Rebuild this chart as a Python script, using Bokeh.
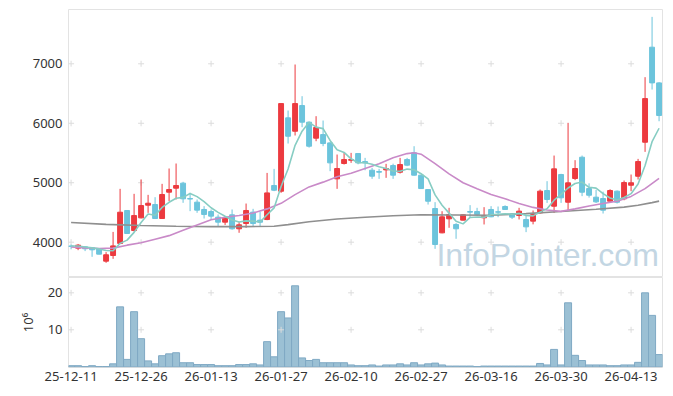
from bokeh.plotting import figure
from bokeh.layouts import column
from bokeh.models import ColumnDataSource, Range1d, FixedTicker, Label
from bokeh.embed import file_html
from bokeh.resources import INLINE

dates = ["25-12-11", "25-12-12", "25-12-15", "25-12-16", "25-12-17", "25-12-18", "25-12-19",
         "25-12-22", "25-12-23", "25-12-24", "25-12-26", "25-12-29", "25-12-30", "26-01-02",
         "26-01-05", "26-01-06", "26-01-07", "26-01-08", "26-01-09", "26-01-12", "26-01-13",
         "26-01-14", "26-01-15", "26-01-16", "26-01-19", "26-01-20", "26-01-21", "26-01-22",
         "26-01-23", "26-01-26", "26-01-27", "26-01-28", "26-01-29", "26-01-30", "26-02-02",
         "26-02-03", "26-02-04", "26-02-05", "26-02-06", "26-02-09", "26-02-10", "26-02-11",
         "26-02-12", "26-02-13", "26-02-19", "26-02-20", "26-02-23", "26-02-24", "26-02-25",
         "26-02-26", "26-02-27", "26-03-03", "26-03-04", "26-03-05", "26-03-06", "26-03-09",
         "26-03-10", "26-03-11", "26-03-12", "26-03-13", "26-03-16", "26-03-17", "26-03-18",
         "26-03-19", "26-03-20", "26-03-23", "26-03-24", "26-03-25", "26-03-26", "26-03-27",
         "26-03-30", "26-03-31", "26-04-01", "26-04-02", "26-04-03", "26-04-06", "26-04-07",
         "26-04-08", "26-04-09", "26-04-10", "26-04-13", "26-04-14", "26-04-15", "26-04-16",
         "26-04-17"]

opens = [3935, 3900, 3922, 3906, 3888, 3681, 3776, 3979, 4533, 4196,
         4409, 4622, 4633, 4398, 4841, 4908, 4993, 4735, 4673, 4550,
         4516, 4421, 4337, 4460, 4225, 4314, 4505, 4370, 4381, 4953,
         4857, 6091, 5866, 6298, 6018, 5749, 5810, 5670, 5065, 5323,
         5378, 5491, 5356, 5211, 5188, 5216, 5289, 5177, 5390, 5502,
         5127, 4885, 4566, 4157, 4393, 4298, 4371, 4516, 4516, 4410,
         4550, 4511, 4600, 4477, 4449, 4382, 4354, 4493, 4869, 4605,
         5138, 4672, 5071, 5429, 4902, 4757, 4734, 4689, 4858, 4729,
         4958, 5109, 5681, 7279, 6679]
highs = [3960, 3970, 3930, 3915, 3895, 3833, 4173, 4897, 4540, 4813,
         5055, 4796, 4757, 4981, 5239, 5323, 5015, 4830, 4718, 4606,
         4550, 4466, 4438, 4550, 4337, 4650, 4561, 4510, 5165, 5233,
         6331, 6214, 6988, 6455, 6030, 6119, 6046, 5680, 5474, 5502,
         5502, 5500, 5418, 5250, 5233, 5317, 5320, 5418, 5418, 5614,
         5130, 4890, 4673, 4521, 4578, 4320, 4470, 4623, 4578, 4589,
         4606, 4600, 4620, 4490, 4578, 4440, 4533, 4886, 5026, 5457,
         5150, 6007, 5379, 5457, 4990, 4880, 4850, 4890, 4870, 5037,
         5138, 5401, 6775, 7789, 6690]
lows = [3880, 3866, 3850, 3754, 3795, 3653, 3720, 3968, 4140, 4180,
        4400, 4493, 4390, 4390, 4690, 4718, 4662, 4522, 4494, 4398,
        4382, 4270, 4290, 4210, 4158, 4242, 4270, 4270, 4370, 4858,
        4830, 5659, 5794, 5934, 5590, 5698, 5614, 5194, 4897, 5306,
        5334, 5310, 5210, 5065, 5065, 5082, 5065, 5155, 5278, 5120,
        4895, 4633, 3888, 4150, 4242, 4057, 4365, 4410, 4440, 4298,
        4420, 4420, 4545, 4390, 4382, 4169, 4300, 4480, 4661, 4493,
        4661, 4532, 5043, 4774, 4750, 4660, 4482, 4680, 4650, 4705,
        4858, 5054, 5519, 6567, 6034]
closes = [3930, 3950, 3889, 3872, 3799, 3788, 3938, 4504, 4146, 4448,
          4616, 4655, 4398, 4802, 4886, 4953, 4729, 4725, 4539, 4466,
          4438, 4337, 4404, 4225, 4292, 4533, 4314, 4336, 4829, 4874,
          6331, 5782, 6331, 6018, 5614, 5928, 5659, 5334, 5239, 5390,
          5390, 5334, 5334, 5110, 5177, 5239, 5127, 5306, 5295, 5127,
          4902, 4689, 3961, 4426, 4466, 4225, 4460, 4505, 4466, 4449,
          4427, 4505, 4550, 4421, 4522, 4258, 4466, 4858, 4718, 5233,
          4746, 4998, 5239, 4841, 4790, 4678, 4538, 4869, 4672, 5003,
          4998, 5356, 6415, 6679, 6130]
volume_m = [0.3, 0.3, 0.05, 0.3, 0.05, 0.05, 0.8, 16.2, 2.0, 14.9,
            7.6, 1.6, 0.8, 3.0, 3.5, 3.8, 1.1, 1.1, 0.6, 0.6,
            0.6, 0.3, 0.3, 0.3, 0.6, 0.6, 0.8, 0.5, 6.8, 2.7,
            14.9, 13.2, 21.9, 2.4, 1.7, 2.0, 1.1, 1.1, 1.1, 1.1,
            0.5, 0.3, 0.3, 0.5, 0.2, 0.5, 0.5, 0.8, 0.5, 1.1,
            0.5, 0.8, 1.0, 0.5, 0.2, 0.2, 0.2, 0.2, 0.05, 0.2,
            0.2, 0.2, 0.2, 0.2, 0.2, 0.2, 0.2, 0.9, 0.5, 4.7,
            0.5, 17.3, 3.1, 1.7, 0.5, 0.5, 0.5, 0.3, 0.3, 0.5,
            0.5, 1.2, 20.0, 13.9, 3.3]

ma5 = [3935, 3935, 3920, 3905, 3887, 3859, 3857, 3980, 4035, 4165,
       4330, 4474, 4453, 4584, 4671, 4739, 4754, 4819, 4766, 4682,
       4579, 4501, 4437, 4374, 4339, 4358, 4354, 4340, 4461, 4577,
       4937, 5230, 5629, 5867, 6015, 5935, 5910, 5711, 5555, 5510,
       5402, 5337, 5337, 5312, 5269, 5239, 5197, 5192, 5229, 5219,
       5151, 5064, 4795, 4621, 4489, 4353, 4308, 4416, 4424, 4421,
       4461, 4470, 4479, 4470, 4485, 4451, 4443, 4505, 4564, 4707,
       4804, 4911, 4987, 5011, 4923, 4909, 4817, 4743, 4709, 4752,
       4816, 4980, 5289, 5690, 5916]
ma20_idx = [0, 2, 4, 6, 8, 10, 12, 14, 16, 18, 20, 22, 24, 26, 28, 30, 32, 34, 36, 38,
            40, 42, 44, 46, 48, 49, 50, 52, 54, 56, 58, 60, 62, 64, 66, 68, 70, 72,
            74, 76, 78, 80, 82, 84]
ma20 = [3920, 3905, 3895, 3900, 3950, 3990, 4050, 4110, 4200, 4290, 4377, 4420, 4450,
        4490, 4560, 4653, 4800, 4930, 5010, 5100, 5158, 5240, 5320, 5420, 5490, 5503,
        5480, 5320, 5150, 5000, 4900, 4801, 4730, 4650, 4585, 4540, 4518, 4560, 4610,
        4650, 4690, 4770, 4900, 5074]
ma_long_idx = [0, 5, 10, 15, 20, 25, 29, 31, 34, 38, 42, 46, 50, 55, 60, 65, 70, 75,
               79, 81, 83, 84]
ma_long = [4330, 4300, 4280, 4268, 4262, 4262, 4268, 4295, 4345, 4390, 4420, 4445,
           4462, 4458, 4452, 4480, 4515, 4555, 4590, 4620, 4665, 4690]

price_ticks = [4000, 5000, 6000, 7000]
volume_ticks = [10, 20]
date_tick_idx = [0, 10, 20, 30, 40, 50, 60, 70, 80]

RED = "#ec3a3f"
BLUE = "#6cc4dc"
FONT = "Noto Sans"
GRIDC = "#dcdcdc"

idx = list(range(len(dates)))
src = ColumnDataSource(dict(
    x=idx, high=highs, low=lows,
    top=[max(o, c) for o, c in zip(opens, closes)],
    bottom=[min(o, c) for o, c in zip(opens, closes)],
    color=[RED if c >= o else BLUE for o, c in zip(opens, closes)],
    vol=volume_m,
))

x_range = Range1d(-0.37, 84.49)

p = figure(width=664, height=277, x_range=x_range, y_range=Range1d(3423, 7913),
           output_backend="svg", toolbar_location=None, x_axis_location=None,
           min_border_left=68, min_border_right=2, min_border_top=9, min_border_bottom=1)
p.grid.visible = False
p.outline_line_color = "#e3e3e3"
p.yaxis.ticker = FixedTicker(ticks=price_ticks)
p.yaxis.axis_line_color = None
p.yaxis.major_tick_line_color = None
p.yaxis.minor_tick_line_color = None
p.yaxis.major_tick_out = 0
p.yaxis.major_tick_in = 0
p.yaxis.major_label_standoff = 6
p.yaxis.major_label_text_font = FONT
p.yaxis.major_label_text_font_size = "13px"
p.yaxis.major_label_text_color = "#333333"

wm = Label(x=52.2, y=4087, text="InfoPointer.com", text_font="Liberation Sans",
           text_font_size="32px", text_color="#c3d6e3", text_baseline="top",
           level="underlay")
p.add_layout(wm)

gx = [i for i in date_tick_idx for _ in price_ticks]
gy = [t for _ in date_tick_idx for t in price_ticks]
p.scatter(gx, gy, marker="cross", size=6, line_color=GRIDC, line_width=1)

p.segment(x0="x", y0="high", x1="x", y1="low", line_color="color", line_width=1, source=src)
p.vbar(x="x", width=0.7, top="top", bottom="bottom", fill_color="color",
       line_color="color", line_width=1, source=src)

p.line(ma_long_idx, ma_long, line_color="#8f8f8f", line_width=1.6)
p.line(ma20_idx, ma20, line_color="#c98ac8", line_width=1.6)
p.line(idx, ma5, line_color="#87cdc3", line_width=1.6)

v = figure(width=664, height=114, x_range=x_range, y_range=Range1d(-0.19, 24.14),
           output_backend="svg", toolbar_location=None,
           min_border_left=68, min_border_right=2, min_border_top=0, min_border_bottom=24)
v.grid.visible = False
v.outline_line_color = "#e3e3e3"
v.vbar(x="x", width=1.0, top="vol", bottom=0, fill_color="#9bc0d4",
       line_color="#7fa9c4", line_width=1, source=src)
vgx = [i for i in date_tick_idx for _ in volume_ticks]
vgy = [t for _ in date_tick_idx for t in volume_ticks]
v.scatter(vgx, vgy, marker="cross", size=6, line_color=GRIDC, line_width=1)

v.yaxis.ticker = FixedTicker(ticks=volume_ticks)
v.yaxis.axis_label = "10\u2076"
v.yaxis.axis_label_standoff = 8
v.yaxis.axis_label_text_font = FONT
v.yaxis.axis_label_text_font_size = "13px"
v.yaxis.axis_label_text_font_style = "normal"
v.yaxis.axis_label_text_color = "#333333"
v.xaxis.ticker = FixedTicker(ticks=date_tick_idx)
v.xaxis.major_label_overrides = {i: dates[i] for i in date_tick_idx}
for ax in (v.xaxis, v.yaxis):
    ax.axis_line_color = None
    ax.major_tick_line_color = None
    ax.minor_tick_line_color = None
    ax.major_tick_out = 0
    ax.major_tick_in = 0
    ax.major_label_text_font = FONT
    ax.major_label_text_font_size = "13px"
    ax.major_label_text_color = "#333333"
v.yaxis.major_label_standoff = 6
v.xaxis.major_label_standoff = 4

layout = column(p, v, spacing=0)
open("out.html", "w").write(file_html(layout, INLINE, title="chart"))
